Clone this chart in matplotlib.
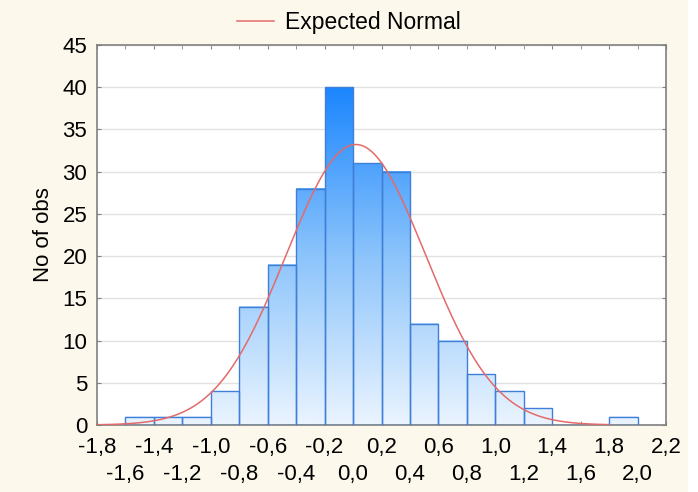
import numpy as np
import matplotlib
matplotlib.use("Agg")
import matplotlib.pyplot as plt
from matplotlib.colors import LinearSegmentedColormap, Normalize
from matplotlib.patches import Rectangle

# ---- data ----
bin_left = [-1.6, -1.4, -1.2, -1.0, -0.8, -0.6, -0.4, -0.2, 0.0, 0.2, 0.4, 0.6,
            0.8, 1.0, 1.2, 1.4, 1.6, 1.8]
counts = [1, 1, 1, 4, 14, 19, 28, 40, 31, 30, 12, 10, 6, 4, 2, 0, 0, 1]
bin_width = 0.2
normal_mean = 0.02
normal_sd = 0.49
n_obs = sum(counts)

xtick_major = [-1.8, -1.4, -1.0, -0.6, -0.2, 0.2, 0.6, 1.0, 1.4, 1.8, 2.2]
xtick_major_labels = ["-1,8", "-1,4", "-1,0", "-0,6", "-0,2", "0,2", "0,6", "1,0", "1,4", "1,8", "2,2"]
xtick_minor = [-1.6, -1.2, -0.8, -0.4, 0.0, 0.4, 0.8, 1.2, 1.6, 2.0]
xtick_minor_labels = ["-1,6", "-1,2", "-0,8", "-0,4", "0,0", "0,4", "0,8", "1,2", "1,6", "2,0"]
ytick_vals = [0, 5, 10, 15, 20, 25, 30, 35, 40, 45]

plt.rcParams['font.family'] = ['Liberation Sans', 'DejaVu Sans']

fig = plt.figure(figsize=(6.98, 4.92), dpi=100)
fig.patch.set_facecolor('#fdf8ec')
fig.patches.append(Rectangle((688/698, 0), 10/698, 1, transform=fig.transFigure,
                             facecolor='white', edgecolor='none', zorder=-1))
ax = fig.add_axes([97/698, 67/492, 569/698, 380/492])
ax.set_facecolor('white')

cmap = LinearSegmentedColormap.from_list('g', ['#eaf4ff', '#8cc4fb', '#1c86fe'])
norm = Normalize(vmin=0, vmax=40)

bars = ax.bar(bin_left, counts, width=bin_width, align='edge', facecolor='none',
              edgecolor='#3f7fd8', linewidth=1.0, zorder=3)
for b in bars:
    h = b.get_height()
    if h <= 0:
        continue
    x0 = b.get_x()
    grad = np.linspace(0, h, 200).reshape(-1, 1)
    ax.imshow(grad, cmap=cmap, norm=norm, origin='lower', aspect='auto',
              extent=[x0, x0 + b.get_width(), 0, h], zorder=2, interpolation='bilinear')

xs = np.linspace(-1.8, 1.8, 400)
ys = n_obs * bin_width / (normal_sd * np.sqrt(2 * np.pi)) * np.exp(-0.5 * ((xs - normal_mean) / normal_sd) ** 2)
ax.plot(xs, ys, color='#e46a6a', linewidth=1.1, zorder=4, label='Expected Normal')

ax.set_xlim(-1.8, 2.2)
ax.set_ylim(0, 45)
ax.set_yticks(ytick_vals)
ax.set_yticklabels([str(v) for v in ytick_vals])
ax.set_xticks(xtick_major)
ax.set_xticklabels(xtick_major_labels)
ax.set_xticks(xtick_minor, minor=True)
ax.set_xticklabels(xtick_minor_labels, minor=True)

ax.tick_params(axis='both', which='both', direction='in', length=3, color='#808080',
               top=True, right=True, labelsize=16)
ax.tick_params(axis='x', which='major', pad=9)
ax.tick_params(axis='x', which='minor', pad=28)
ax.tick_params(axis='y', pad=7)

ax.grid(axis='y', color='#e2e2e2', linewidth=1.0, zorder=0)
ax.set_axisbelow(True)
for s in ax.spines.values():
    s.set_color('#808080')
    s.set_linewidth(1.2)

ax.set_ylabel('No of obs', fontsize=16, labelpad=6)

fig.legend(loc='upper center', bbox_to_anchor=(0.5, 1.0), frameon=False, fontsize=16.5,
           handlelength=1.6, handletextpad=0.5, borderaxespad=0.1)

fig.savefig('out.png', dpi=100, facecolor=fig.get_facecolor())
